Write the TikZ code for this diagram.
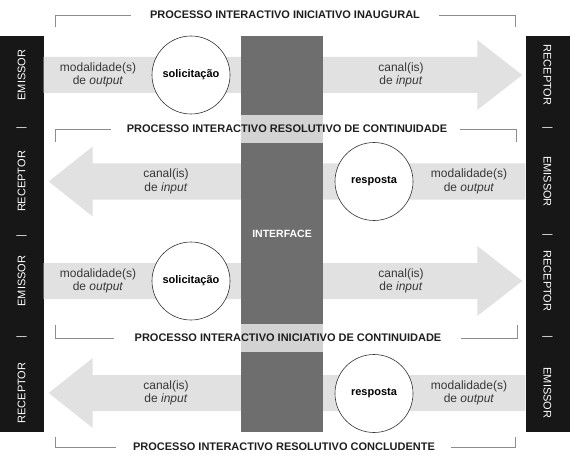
\documentclass[tikz,border=0pt]{standalone}
\usepackage{fontspec}
\setmainfont{Liberation Sans}
\usepackage{xcolor}
\usepackage{tikz}
\usetikzlibrary{positioning,calc}

\definecolor{barblack}{HTML}{171717}
\definecolor{ifacegray}{HTML}{6E6E6E}
\definecolor{flowgray}{HTML}{E1E1E1}
\definecolor{bandgray}{HTML}{D3D3D3}
\definecolor{brkgray}{HTML}{8C8C8C}
\definecolor{txtgray}{HTML}{383838}

% big flat arrow: tail, head base, tip
\newcommand{\flowarrow}[3]{%
  \fill[flow] ([yshift=18pt]#1) -- ([yshift=18pt]#2) -- ([yshift=35pt]#2)
    -- (#3) -- ([yshift=-35pt]#2) -- ([yshift=-18pt]#2) -- ([yshift=-18pt]#1) -- cycle;}

\begin{document}
\begin{tikzpicture}[
    x=1pt, y=-1pt,
    bar/.style   = {fill=barblack, minimum width=44pt, minimum height=396pt, inner sep=0pt},
    barl/.style  = {text=white, font=\fontsize{11}{13}\selectfont, inner sep=0pt},
    barsep/.style= {barl, text=black!12},
    iface/.style = {fill=ifacegray, minimum width=82pt, minimum height=396pt, inner sep=0pt,
                    text=white, font=\bfseries\fontsize{10.5}{13}\selectfont},
    band/.style  = {fill=bandgray},
    flow/.style  = {fill=flowgray},
    msg/.style   = {circle, draw=black!80, line width=0.6pt, fill=white, minimum size=78pt,
                    inner sep=0pt, font=\bfseries\fontsize{11}{13}\selectfont},
    lab/.style   = {align=center, text=txtgray, inner sep=0pt,
                    font=\fontsize{12}{13.5}\selectfont},
    ttl/.style   = {font=\bfseries\fontsize{11}{13}\selectfont, text=black!88, inner sep=1pt},
    brk/.style   = {draw=brkgray, line width=0.8pt},
]

\useasboundingbox (0,0) rectangle (577,462);

%--- emitter / receiver bars
\node[bar] (lbar) at (21.5,234) {};
\node[bar] (rbar) at (547.5,234) {};

\node[barl, rotate=90]   (l1)  at (21.5,75)    {EMISSOR};
\node[barsep, rotate=90] (ls1) at (21.5,128)   {|};
\node[barl, rotate=90]   (l2)  at (21.5,181.5) {RECEPTOR};
\node[barsep, rotate=90] (ls2) at (21.5,236)   {|};
\node[barl, rotate=90]   (l3)  at (21.5,281)   {EMISSOR};
\node[barsep, rotate=90] (ls3) at (21.5,337)   {|};
\node[barl, rotate=90]   (l4)  at (21.5,393)   {RECEPTOR};

\node[barl, rotate=-90]   (r1)  at (547.5,75)    {RECEPTOR};
\node[barsep, rotate=-90] (rs1) at (547.5,128)   {|};
\node[barl, rotate=-90]   (r2)  at (547.5,181.5) {EMISSOR};
\node[barsep, rotate=-90] (rs2) at (547.5,235)   {|};
\node[barl, rotate=-90]   (r3)  at (547.5,281)   {RECEPTOR};
\node[barsep, rotate=-90] (rs3) at (547.5,337)   {|};
\node[barl, rotate=-90]   (r4)  at (547.5,393)   {EMISSOR};

%--- flows
\coordinate (tail1) at (lbar.east |- l1);
\coordinate (tip1)  at ($(rbar.west |- r1)+(-3,0)$);
\coordinate (base1) at ($(tip1)+(-45,0)$);
\flowarrow{tail1}{base1}{tip1}

\coordinate (tail2) at (rbar.west |- r2);
\coordinate (tip2)  at ($(lbar.east |- l2)+(5,0)$);
\coordinate (base2) at ($(tip2)+(44,0)$);
\flowarrow{tail2}{base2}{tip2}

\coordinate (tail3) at (lbar.east |- l3);
\coordinate (tip3)  at ($(rbar.west |- r3)+(-3,0)$);
\coordinate (base3) at ($(tip3)+(-45,0)$);
\flowarrow{tail3}{base3}{tip3}

\coordinate (tail4) at (rbar.west |- r4);
\coordinate (tip4)  at ($(lbar.east |- l4)+(5,0)$);
\coordinate (base4) at ($(tip4)+(44,0)$);
\flowarrow{tail4}{base4}{tip4}

%--- interface
\node[iface] (iface) at (282,234) {INTERFACE};
\fill[band] (241,115) rectangle (323,143);
\fill[band] (241,324) rectangle (323,352);

%--- messages
\node[msg] (req1)  at (191,75)    {solicitação};
\node[msg] (resp1) at (374,181.5) {resposta};
\node[msg] (req2)  at (191,281)   {solicitação};
\node[msg] (resp2) at (374,393.5) {resposta};

\node[lab] (out1) at (98,75)    {modalidade(s)\\de \textit{output}};
\node[lab] (in1)  at (401,75)   {canal(is)\\de \textit{input}};
\node[lab] (in2)  at (166,181.5){canal(is)\\de \textit{input}};
\node[lab] (out2) at (469,181.5){modalidade(s)\\de \textit{output}};
\node[lab] (out3) at (98,281)   {modalidade(s)\\de \textit{output}};
\node[lab] (in3)  at (401,281)  {canal(is)\\de \textit{input}};
\node[lab] (in4)  at (166,393)  {canal(is)\\de \textit{input}};
\node[lab] (out4) at (469,393)  {modalidade(s)\\de \textit{output}};

%--- process titles
\node[ttl] (t1) at (285,15)  {PROCESSO INTERACTIVO INICIATIVO INAUGURAL};
\node[ttl] (t2) at (287,129) {PROCESSO INTERACTIVO RESOLUTIVO DE CONTINUIDADE};
\node[ttl] (t3) at (288,338) {PROCESSO INTERACTIVO INICIATIVO DE CONTINUIDADE};
\node[ttl] (t4) at (284,447) {PROCESSO INTERACTIVO RESOLUTIVO CONCLUDENTE};

\draw[brk] ([xshift=-18pt]t1.west) -| (55,27);
\draw[brk] ([xshift=18pt]t1.east)  -| (515,27);
\draw[brk] ([xshift=-15pt]t2.west) -| (55,142);
\draw[brk] ([xshift=12pt]t2.east)  -| (516,142);
\draw[brk] ([xshift=-20pt]t3.west) -| (55,325);
\draw[brk] ([xshift=18pt]t3.east)  -| (517,325);
\draw[brk] ([xshift=-16pt]t4.west) -| (55,437);
\draw[brk] ([xshift=15pt]t4.east)  -| (515,437);

\end{tikzpicture}
\end{document}
